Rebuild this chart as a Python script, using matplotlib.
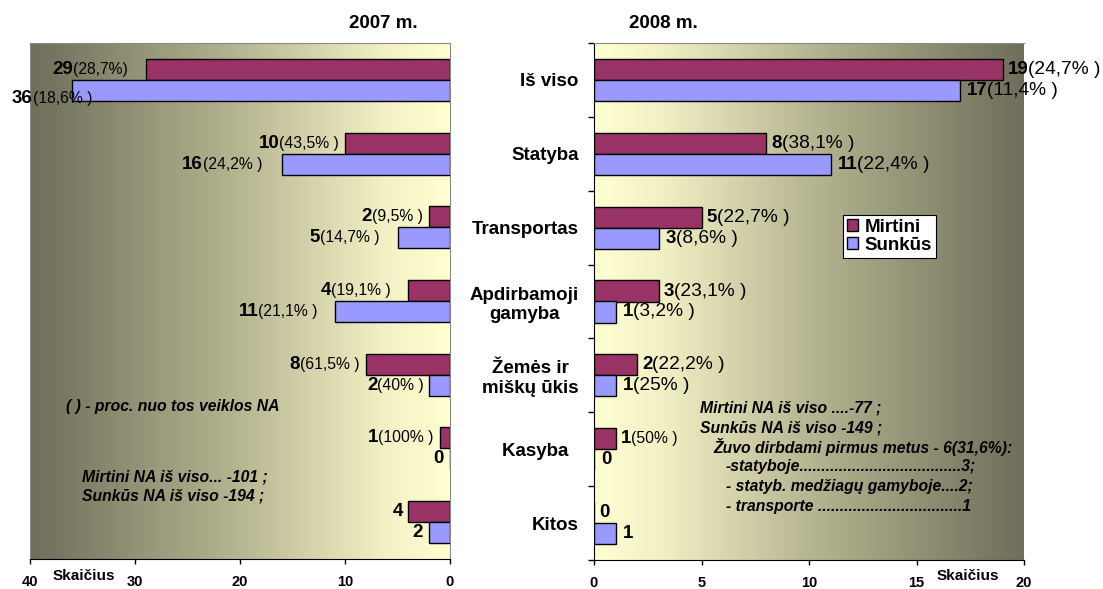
import numpy as np
import matplotlib
matplotlib.use('Agg')
import matplotlib.pyplot as plt
from matplotlib.colors import LinearSegmentedColormap
from matplotlib.offsetbox import TextArea, HPacker, AnnotationBbox
from matplotlib.patches import Patch

plt.rcParams['font.family'] = ['Liberation Sans', 'DejaVu Sans']

# data
categories = ['Iš viso', 'Statyba', 'Transportas', 'Apdirbamoji\ngamyba',
              'Žemės ir\nmiškų ūkis', 'Kasyba  ', 'Kitos']
mirtini_2007 = [29, 10, 2, 4, 8, 1, 4]
sunkus_2007 = [36, 16, 5, 11, 2, 0, 2]
mirtini_2007_pct = ['(28,7%)', '(43,5% )', '(9,5% )', '(19,1% )', '(61,5% )', '(100% )', '']
sunkus_2007_pct = ['(18,6% )', '(24,2% )', '(14,7% )', '(21,1% )', '(40% )', '', '']
mirtini_2008 = [19, 8, 5, 3, 2, 1, 0]
sunkus_2008 = [17, 11, 3, 1, 1, 0, 1]
mirtini_2008_pct = ['(24,7% )', '(38,1% )', '(22,7% )', '(23,1% )', '(22,2% )', '(50% )', '']
sunkus_2008_pct = ['(11,4% )', '(22,4% )', '(8,6% )', '(3,2% )', '(25% )', '', '']
ticks_2007 = [0, 10, 20, 30, 40]
ticks_2008 = [0, 5, 10, 15, 20]

C_MIRT = '#993366'
C_SUNK = '#9999FF'
W, H = 1103, 589
NUM_SIZE = 13.5

grad = LinearSegmentedColormap.from_list('bg', [(0, '#6e6e5a'), (0.5, '#b6b692'),
                                                 (0.85, '#f3f1c5'), (1, '#ffffd2')])

fig = plt.figure(figsize=(W / 100, H / 100), dpi=100)
ax1 = fig.add_axes([30 / W, 1 - 559 / H, 420 / W, 516 / H])
ax2 = fig.add_axes([594 / W, 1 - 560 / H, 430 / W, 517 / H])

y = np.arange(len(categories))
bh = 0.285
off = 0.142


def label_box(num, pct, pct_size):
    kids = [TextArea(str(num), textprops=dict(weight='bold', size=NUM_SIZE))]
    if pct:
        kids.append(TextArea(pct, textprops=dict(size=pct_size)))
    return HPacker(children=kids, align='baseline', pad=0, sep=0)


def bar_label(ax, x, yy, num, pct, side, gap, pct_size, dy=0):
    box = label_box(num, pct, pct_size)
    ab = AnnotationBbox(box, (x, yy), xybox=(side * gap, dy), xycoords='data',
                        boxcoords='offset pixels',
                        box_alignment=(0 if side > 0 else 1, 0.5),
                        frameon=False, pad=0, annotation_clip=False, zorder=5)
    ax.add_artist(ab)


# background gradients
g = np.linspace(0, 1, 256).reshape(1, -1)
ax1.imshow(g, cmap=grad, aspect='auto', extent=[0, 1, 0, 1],
           transform=ax1.transAxes, zorder=0)
ax2.imshow(g[:, ::-1], cmap=grad, aspect='auto', extent=[0, 1, 0, 1],
           transform=ax2.transAxes, zorder=0)

# 2007 panel
ax1.barh(y - off, mirtini_2007, height=bh, color=C_MIRT, edgecolor='black', lw=1, zorder=2)
ax1.barh(y + off, sunkus_2007, height=bh, color=C_SUNK, edgecolor='black', lw=1, zorder=2)
ax1.set_xlim(40, 0)
ax1.set_ylim(len(categories) - 0.5, -0.5)

mirt_gaps = [18, 6, 6, 17, 7, 6, 5]
sunk_gaps = [0, 20, 18, 17, 5, 6, 6]
for i in range(len(categories)):
    bar_label(ax1, mirtini_2007[i], y[i] - off, mirtini_2007[i], mirtini_2007_pct[i],
              -1, mirt_gaps[i], 11.3)
    if sunkus_2007[i] > 0.8 * 40:
        # label does not fit: pushed out to the figure edge, over the bar
        box = label_box(sunkus_2007[i], sunkus_2007_pct[i], 11.3)
        ab = AnnotationBbox(box, (40, y[i] + off), xybox=(-18, -8), xycoords='data',
                            boxcoords='offset pixels', box_alignment=(0, 0.5),
                            frameon=False, pad=0, annotation_clip=False, zorder=5)
        ax1.add_artist(ab)
    else:
        bar_label(ax1, sunkus_2007[i], y[i] + off, sunkus_2007[i], sunkus_2007_pct[i],
                  -1, sunk_gaps[i], 11.3)

ax1.set_xticks(ticks_2007)
ax1.set_yticks([])
for s in ['top', 'left', 'right']:
    ax1.spines[s].set_color('#8a8a8a')
ax1.spines['bottom'].set_color('black')
ax1.tick_params(axis='x', direction='out', length=3.5, width=1, pad=8)
for lab in ax1.get_xticklabels():
    lab.set_fontweight('bold')
    lab.set_fontsize(10.5)

# 2008 panel
ax2.barh(y - off, mirtini_2008, height=bh, color=C_MIRT, edgecolor='black', lw=1, zorder=2)
ax2.barh(y + off, sunkus_2008, height=bh, color=C_SUNK, edgecolor='black', lw=1, zorder=2)
ax2.set_xlim(0, 20)
ax2.set_ylim(len(categories) - 0.5, -0.5)

for i in range(len(categories)):
    ps = 11.3 if i == 5 else 13.8
    bar_label(ax2, mirtini_2008[i], y[i] - off, mirtini_2008[i], mirtini_2008_pct[i],
              1, 5, ps)
    bar_label(ax2, sunkus_2008[i], y[i] + off, sunkus_2008[i], sunkus_2008_pct[i],
              1, 7, ps)

ax2.set_xticks(ticks_2008)
ax2.set_yticks(y)
ax2.set_yticklabels(categories, fontweight='bold', fontsize=13.5, multialignment='center')
ax2.set_yticks(np.arange(-0.5, len(categories)), minor=True)
ax2.tick_params(axis='y', which='major', length=0, pad=11)
ax2.tick_params(axis='y', which='minor', direction='out', length=4, width=1)
ax2.tick_params(axis='x', direction='out', length=3.5, width=1, pad=8)
for lab in ax2.get_xticklabels():
    lab.set_fontweight('bold')
    lab.set_fontsize(10.5)
ax2.spines['top'].set_color('#8a8a8a')
ax2.spines['right'].set_visible(False)

handles = [Patch(facecolor=C_MIRT, edgecolor='black', label='Mirtini'),
           Patch(facecolor=C_SUNK, edgecolor='black', label='Sunkūs')]
leg = ax2.legend(handles=handles, loc='upper left', bbox_to_anchor=(0.579, 0.667),
                 prop=dict(weight='bold', size=13.5), fancybox=False, framealpha=1,
                 edgecolor='black', handlelength=0.62, handleheight=0.62,
                 handletextpad=0.35, borderpad=0.2, labelspacing=0.05,
                 borderaxespad=0)
leg.get_frame().set_linewidth(0.8)


def ftext(x, yy, s, **kw):
    fig.text(x / W, 1 - yy / H, s, **kw)


ftext(383, 23, '2007 m.', ha='center', va='center', fontweight='bold', fontsize=13.5)
ftext(663, 23, '2008 m.', ha='center', va='center', fontweight='bold', fontsize=13.5)
ftext(84, 576, 'Skaičius', ha='center', va='center', fontweight='bold', fontsize=11)
ftext(968, 576, 'Skaičius', ha='center', va='center', fontweight='bold', fontsize=11)

note = dict(ha='left', va='center', fontweight='bold', style='italic', fontsize=11.3)
ftext(66, 407, '( ) - proc. nuo tos veiklos NA', **note)
ftext(82, 477, 'Mirtini NA iš viso... -101 ;', **note)
ftext(82, 496, 'Sunkūs NA iš viso -194 ;', **note)
ftext(700, 408, 'Mirtini NA iš viso ....-77 ;', **note)
ftext(700, 428, 'Sunkūs NA iš viso -149 ;', **note)
ftext(713, 447, 'Žuvo dirbdami pirmus metus - 6(31,6%):', **note)
ftext(726, 467, '-statyboje.....................................3;', **note)
ftext(726, 487, '- statyb. medžiagų gamyboje....2;', **note)
ftext(726, 507, '- transporte .................................1', **note)

fig.savefig('out.png', dpi=100)
